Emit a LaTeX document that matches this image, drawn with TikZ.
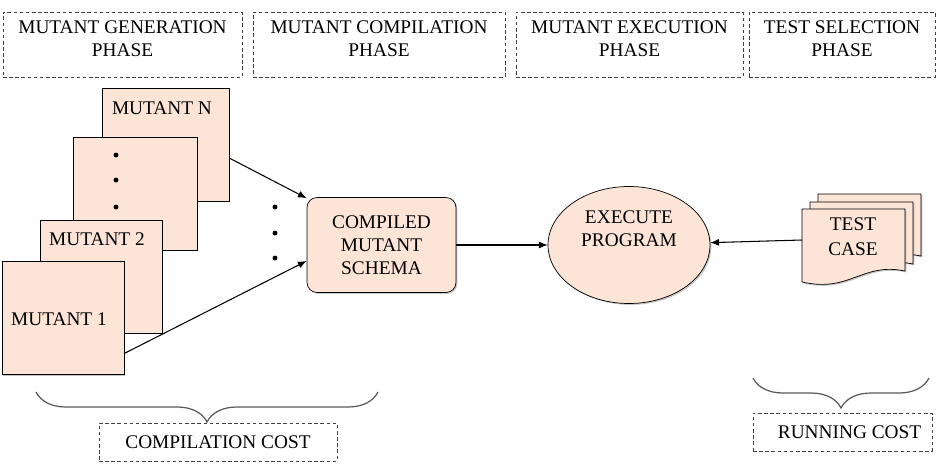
\documentclass[tikz,border=0pt]{standalone}
\usepackage{fontspec}
\setmainfont{Liberation Serif}
\usetikzlibrary{positioning,shapes.geometric,arrows.meta,decorations.pathreplacing,shadows}
\definecolor{peach}{RGB}{252,228,214}

\begin{document}
\begin{tikzpicture}[
x=0.02cm, y=-0.02cm,
every node/.style={font=\fontsize{11pt}{13pt}\selectfont, align=center},
phasebox/.style={draw=black!75, dash pattern=on 2pt off 1.5pt, minimum height=1.3cm},
costbox/.style={draw=black!75, dash pattern=on 2pt off 1.5pt, minimum height=0.76cm},
mutbox/.style={draw, fill=peach, minimum width=2.48cm, minimum height=2.26cm,
    drop shadow={shadow xshift=0.8pt, shadow yshift=-0.8pt, opacity=0.45}},
docpage/.style={draw, fill=peach,
    drop shadow={shadow xshift=0.8pt, shadow yshift=-0.8pt, opacity=0.45}},
costbrace/.style={draw=black!65, line width=0.7pt, decorate,
    decoration={brace, mirror, amplitude=0.6cm}},
link/.style={-{Latex[length=5pt,width=4pt]}, line width=0.6pt}
]
\useasboundingbox (0,0) rectangle (940,474);

% phases
\node[phasebox, minimum width=4.78cm] (ph1) at (122.5,44.5) {};
\node (ph1txt) at (122.5,38.5) {MUTANT GENERATION\\PHASE};
\node[phasebox, minimum width=5.04cm] (ph2) at (379,44.5) {};
\node (ph2txt) at (379,38.5) {MUTANT COMPILATION\\PHASE};
\node[phasebox, minimum width=4.54cm] (ph3) at (629.5,44.5) {};
\node (ph3txt) at (629.5,38.5) {MUTANT EXECUTION\\PHASE};
\node[phasebox, minimum width=3.72cm] (ph4) at (842,44.5) {};
\node (ph4txt) at (842,38.5) {TEST SELECTION\\PHASE};

% mutants, back to front
\node[mutbox, minimum width=2.54cm] (mN) at (165.5,144.5) {};
\node (mNtxt) at (162,108) {MUTANT N};
\node[mutbox] (mdots) at (135,193.5) {};
\foreach \yy in {155,180,207}
    \fill (116,\yy) circle (1.4pt);
\node[mutbox, minimum width=2.44cm] (m2) at (101,276.5) {};
\node (m2txt) at (97,239) {MUTANT 2};
\node[mutbox, minimum width=2.44cm] (m1) at (63,318) {};
\node (m1txt) at (59,319) {MUTANT 1};

\foreach \yy in {207,233,258}
    \fill (275,\yy) circle (1.4pt);

% compile and execute
\node[draw, fill=peach, rounded corners=0.2cm, minimum width=2.98cm, minimum height=1.9cm,
    drop shadow={shadow xshift=0.8pt, shadow yshift=-0.8pt, opacity=0.45}]
    (cms) at (381.5,245) {COMPILED\\MUTANT\\SCHEMA};
\node[draw, fill=peach, ellipse, inner sep=0pt, minimum width=3.24cm, minimum height=2.34cm,
    drop shadow={shadow xshift=0.8pt, shadow yshift=-0.8pt, opacity=0.45}]
    (exec) at (629,245) {};
\node (exectxt) at (629,229) {EXECUTE\\PROGRAM};

% test case stack
\foreach \dx/\dy in {16/-15,8/-7,0/0}
    \path[docpage, shift={(\dx,\dy)}] (802,209) -- (905,209) -- (905,271)
        .. controls (862,262) and (850,293) .. (802,282) -- cycle;
\node (tc) at (853,236.5) {TEST\\[1pt]CASE};
\coordinate (tcin) at (802,240);

% connectors
\draw[link] (mN.-12) -- (cms.148);
\draw[link] (m1.-30) -- (cms.192);
\draw[link] (cms.east) -- (exec.west);
\draw[link] (tcin) -- (exec);

% costs
\draw[costbrace] (36,392) -- (378,392);
\node[costbox, minimum width=4.76cm] (ccost) at (218,442) {COMPILATION COST};
\draw[costbrace] (753,378) -- (929,378);
\node[costbox, minimum width=3.58cm] (rcost) at (842.5,432) {\hspace{8pt}RUNNING COST};

\end{tikzpicture}
\end{document}
